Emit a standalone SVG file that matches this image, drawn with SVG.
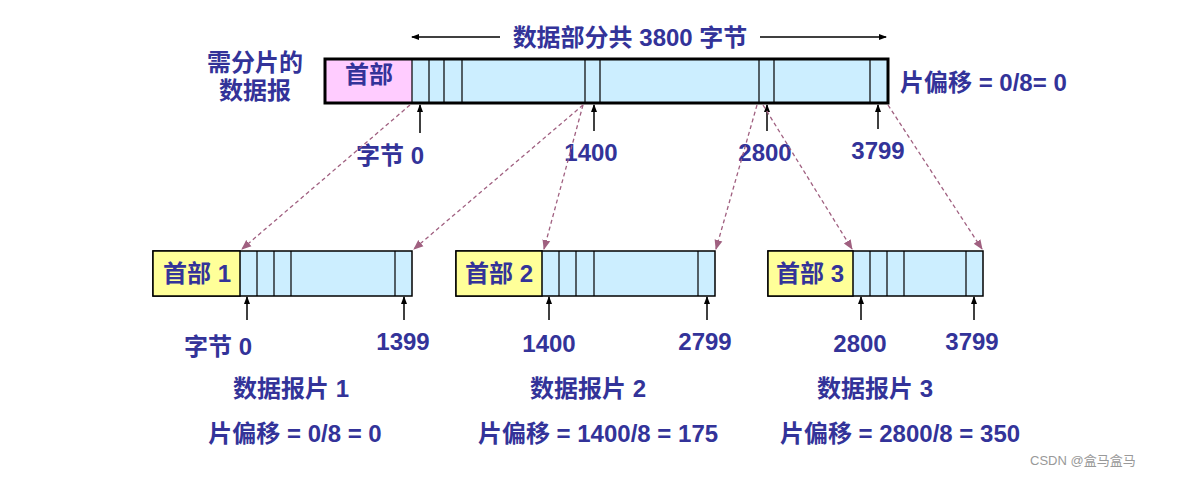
<svg xmlns="http://www.w3.org/2000/svg" width="1178" height="477" viewBox="0 0 1178 477">
<defs>
<marker id="a" markerWidth="8" markerHeight="8" refX="7" refY="4" orient="auto" markerUnits="userSpaceOnUse"><path d="M0,1 L8,4 L0,7 z" fill="#000"/></marker>
<marker id="d" markerWidth="10" markerHeight="10" refX="9" refY="5" orient="auto" markerUnits="userSpaceOnUse"><path d="M0,1 L10,5 L0,9 z" fill="#a06080"/></marker>
<style>
text{font-family:"Liberation Sans","Noto Sans CJK SC",sans-serif;font-weight:bold;fill:#333399;font-size:24px}
.data{fill:#cceeff;stroke:#000;stroke-width:1.5}
.div{stroke:#000;stroke-width:1.2}
.ar{stroke:#000;stroke-width:1.5;marker-end:url(#a)}
.ds{stroke:#a06080;stroke-width:1.3;stroke-dasharray:4,3;marker-end:url(#d);fill:none}
</style>
</defs>
<rect width="1178" height="477" fill="#fff"/>
<g id="top">
<line x1="500" y1="37" x2="412" y2="37" class="ar"/>
<line x1="760" y1="37" x2="886" y2="37" class="ar"/>
<text x="630" y="46" text-anchor="middle">数据部分共 3800 字节</text>
<text x="255" y="71" text-anchor="middle">需分片的</text>
<text x="255" y="99" text-anchor="middle">数据报</text>
<rect x="325" y="59" width="563" height="44" class="data" stroke-width="3"/>
<rect x="326" y="60" width="86" height="42" fill="#ffccff"/>
<rect x="325" y="59" width="563" height="44" fill="none" stroke="#000" stroke-width="3"/>
<path class="div" d="M412,59V103M429,59V103M444,59V103M462,59V103M585,59V103M600,59V103M759,59V103M774,59V103M870,59V103"/>
<text x="369" y="83" text-anchor="middle">首部</text>
<text x="900" y="91">片偏移 = 0/8= 0</text>
<text x="390" y="164" text-anchor="middle">字节 0</text>
<text x="591" y="161" text-anchor="middle">1400</text>
<text x="765" y="161" text-anchor="middle">2800</text>
<text x="878" y="159" text-anchor="middle">3799</text>
</g>
<g id="f1">
<rect x="153" y="251" width="259" height="45" class="data"/>
<rect x="153" y="251" width="87" height="45" fill="#ffff99" stroke="#000" stroke-width="1.5"/>
<path class="div" d="M257,251V296M274,251V296M291,251V296M395,251V296"/>
<text x="197" y="282" text-anchor="middle">首部 1</text>
<text x="218" y="355" text-anchor="middle">字节 0</text>
<text x="403" y="350" text-anchor="middle">1399</text>
<text x="291" y="397" text-anchor="middle">数据报片 1</text>
<text x="295" y="442" text-anchor="middle">片偏移 = 0/8 = 0</text>
</g>
<g id="f2">
<rect x="456" y="251" width="259" height="45" class="data"/>
<rect x="456" y="251" width="86" height="45" fill="#ffff99" stroke="#000" stroke-width="1.5"/>
<path class="div" d="M559,251V296M576,251V296M594,251V296M698,251V296"/>
<text x="499" y="282" text-anchor="middle">首部 2</text>
<text x="549" y="352" text-anchor="middle">1400</text>
<text x="705" y="350" text-anchor="middle">2799</text>
<text x="588" y="397" text-anchor="middle">数据报片 2</text>
<text x="598" y="442" text-anchor="middle">片偏移 = 1400/8 = 175</text>
</g>
<g id="f3">
<rect x="768" y="251" width="215" height="45" class="data"/>
<rect x="768" y="251" width="85" height="45" fill="#ffff99" stroke="#000" stroke-width="1.5"/>
<path class="div" d="M870,251V296M887,251V296M904,251V296M966,251V296"/>
<text x="810" y="282" text-anchor="middle">首部 3</text>
<text x="860" y="352" text-anchor="middle">2800</text>
<text x="972" y="350" text-anchor="middle">3799</text>
<text x="875" y="397" text-anchor="middle">数据报片 3</text>
<text x="900" y="442" text-anchor="middle">片偏移 = 2800/8 = 350</text>
</g>
<g id="connectors">
<line x1="420" y1="133" x2="420" y2="105" class="ar"/>
<line x1="594" y1="131" x2="594" y2="105" class="ar"/>
<line x1="767" y1="131" x2="767" y2="105" class="ar"/>
<line x1="878" y1="129" x2="878" y2="105" class="ar"/>
<line x1="247" y1="320" x2="247" y2="297" class="ar"/>
<line x1="404" y1="320" x2="404" y2="297" class="ar"/>
<line x1="549" y1="320" x2="549" y2="297" class="ar"/>
<line x1="707" y1="320" x2="707" y2="297" class="ar"/>
<line x1="861" y1="320" x2="861" y2="297" class="ar"/>
<line x1="974" y1="320" x2="974" y2="297" class="ar"/>
<line x1="410" y1="105" x2="242" y2="249" class="ds"/>
<line x1="583" y1="105" x2="414" y2="249" class="ds"/>
<line x1="583" y1="105" x2="544" y2="249" class="ds"/>
<line x1="757" y1="105" x2="716" y2="249" class="ds"/>
<line x1="763" y1="105" x2="852" y2="249" class="ds"/>
<line x1="888" y1="105" x2="982" y2="249" class="ds"/>
</g>
<text x="1030" y="465" style="font-weight:normal;fill:#999;font-size:13px">CSDN @盒马盒马</text>
</svg>
